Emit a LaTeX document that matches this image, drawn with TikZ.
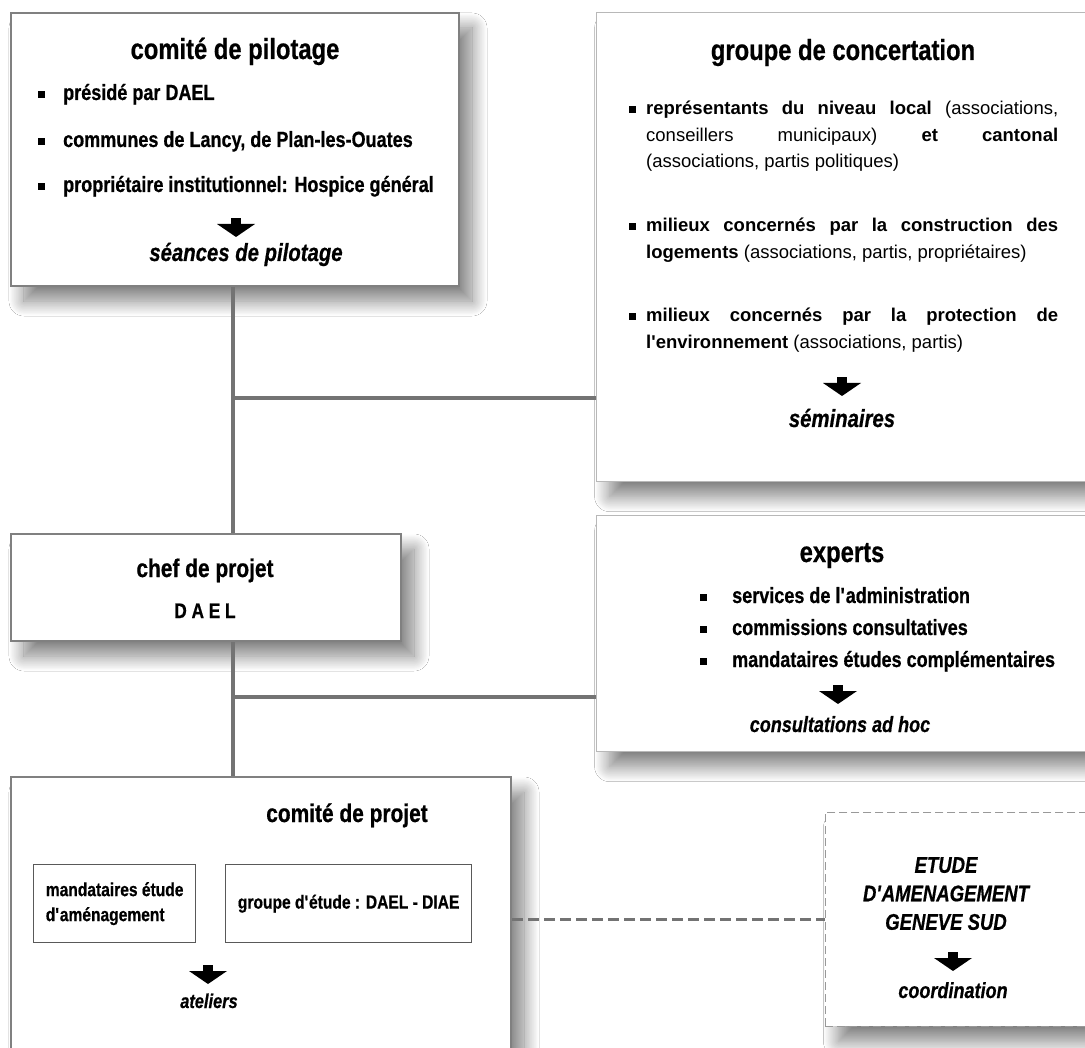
\documentclass[tikz,border=0pt]{standalone}
\usepackage{fontspec}
\setmainfont{Liberation Sans}[FakeStretch=0.82,BoldFeatures={FakeBold=0.6},BoldItalicFeatures={FakeBold=0.6}]
\newfontfamily\widefont{Liberation Sans}
\usetikzlibrary{shadows.blur}

\newcommand\blt{\rule[2pt]{7pt}{7pt}}
\newcommand\ap{\textquotesingle}

\begin{document}
\begin{tikzpicture}[x=1pt,y=-1pt,
  box/.style={draw=black!50,line width=2pt,fill=white,anchor=north west,inner sep=0pt,
    blur shadow={shadow xshift=13pt,shadow yshift=-15pt,shadow blur radius=15pt,
      shadow blur steps=24,shadow opacity=50}},
  lightbox/.style={box,draw=black!28,line width=1.3pt},
  subbox/.style={draw=black!65,line width=1.3pt,anchor=north west,inner sep=0pt,align=left,
    font=\fontsize{19}{25}\selectfont\bfseries},
  dashbox/.style={box,draw=black!40,line width=0.9pt,dash pattern=on 8pt off 4pt},
  link/.style={draw=black!55,line width=3.5pt},
  dlink/.style={link,dash pattern=on 11pt off 5pt},
  title/.style={font=\fontsize{29}{33}\selectfont\bfseries,anchor=base,inner sep=0pt},
  subtitle/.style={title,font=\fontsize{25.5}{30}\selectfont\bfseries},
  item/.style={font=\fontsize{22}{26}\selectfont\bfseries,anchor=base west,inner sep=0pt},
  outcome/.style={font=\fontsize{22}{26}\selectfont\bfseries\itshape,anchor=base,inner sep=0pt},
  para/.style={font=\widefont\fontsize{18.5}{26.5}\selectfont,text width=412pt,align=justify,
    anchor=north west,inner sep=0pt},
  dnarrow/.pic={\fill (-5,0) rectangle (5,6); \fill (-19,6) -- (19,6) -- (0,19) -- cycle;}
]
\useasboundingbox (0,0) rectangle (1085,1048);
\clip (0,0) rectangle (1085,1048);
\fill[white] (0,0) rectangle (1085,1048);

\node[box,minimum width=448pt,minimum height=273pt] (pil) at (10,12) {};
\node[lightbox,minimum width=520pt,minimum height=469pt] (conc) at (596,12) {};
\node[lightbox,minimum width=520pt,minimum height=236pt] (exp) at (596,515) {};
\node[box,minimum width=390pt,minimum height=107pt] (chef) at (10,533) {};
\node[box,minimum width=500pt,minimum height=300pt] (proj) at (10,776) {};
\node[dashbox,minimum width=300pt,minimum height=214pt] (etude) at (825,812) {};

\node[title] (pil-t) at (235,59) {comité de pilotage};
\foreach \y/\t [count=\i] in {100/présidé par DAEL,147/{communes de Lancy, de Plan-les-Ouates},
    192/{propriétaire institutionnel: Hospice général}}
  \node[item] (pil-\i) at (38,\y) {\blt\hspace{18pt}\t};
\pic at (236,218) {dnarrow};
\node[outcome,font=\fontsize{24.8}{28}\selectfont\bfseries\itshape] (pil-o) at (246,261) {séances de pilotage};

\node[title] (conc-t) at (843,60) {groupe de concertation};
\foreach \y [count=\i] in {115,232,322}
  \node[item] (conc-b\i) at (629,\y) {\blt};
\node[para] (conc-1) at (646,101) {\textbf{représentants du niveau local} (associations,\linebreak
  conseillers municipaux) \textbf{et cantonal}\linebreak (associations, partis politiques)};
\node[para] (conc-2) at (646,218) {\textbf{milieux concernés par la construction des}\linebreak
  \textbf{logements} (associations, partis, propriétaires)};
\node[para] (conc-3) at (646,308) {\textbf{milieux concernés par la protection de}\linebreak
  \textbf{l\ap environnement} (associations, partis)};
\pic at (842,377) {dnarrow};
\node[outcome,font=\fontsize{24.8}{28}\selectfont\bfseries\itshape] (conc-o) at (842,427) {séminaires};

\node[subtitle] (chef-t) at (205,577) {chef de projet};
\node[item,anchor=base,font=\fontsize{21}{24}\selectfont\bfseries] (chef-d) at (205,618) {D A E L};

\node[title] (exp-t) at (842,562) {experts};
\foreach \y/\t [count=\i] in {603/services de l\ap administration,635/commissions consultatives,
    667/mandataires études complémentaires}
  \node[item] (exp-\i) at (700,\y) {\blt\hspace{25pt}\t};
\pic at (838,685) {dnarrow};
\node[outcome] (exp-o) at (840,732) {consultations ad hoc};

\node[subtitle] (proj-t) at (347,822) {comité de projet};
\node[subbox,minimum width=162pt,minimum height=78pt] (mand) at (33,864) {mandataires étude\\d\ap aménagement};
\node[subbox,minimum width=246pt,minimum height=78pt] (grp) at (225,864) {groupe d\ap étude : DAEL - DIAE};
\pic at (208,965) {dnarrow};
\node[outcome,font=\fontsize{20}{24}\selectfont\bfseries\itshape] (proj-o) at (209,1008) {ateliers};

\node[font=\fontsize{22.6}{28.5}\selectfont\bfseries\itshape,align=center,anchor=north,inner sep=0pt]
  (etude-t) at (946,857) {ETUDE\\D\ap AMENAGEMENT\\GENEVE SUD};
\pic at (953,952) {dnarrow};
\node[outcome] (etude-o) at (953,998) {coordination};

\coordinate (spine) at (233,0);
\coordinate (tap1) at (233,398);
\coordinate (tap2) at (233,697);
\draw[link] (spine |- pil.south) -- (spine |- chef.north);
\draw[link] (spine |- chef.south) -- (spine |- proj.north);
\draw[link] (tap1) -- (tap1 -| conc.west);
\draw[link] (tap2) -- (tap2 -| exp.west);
\draw[dlink] (etude.west -| proj.east) -- (etude.west);
\end{tikzpicture}
\end{document}
